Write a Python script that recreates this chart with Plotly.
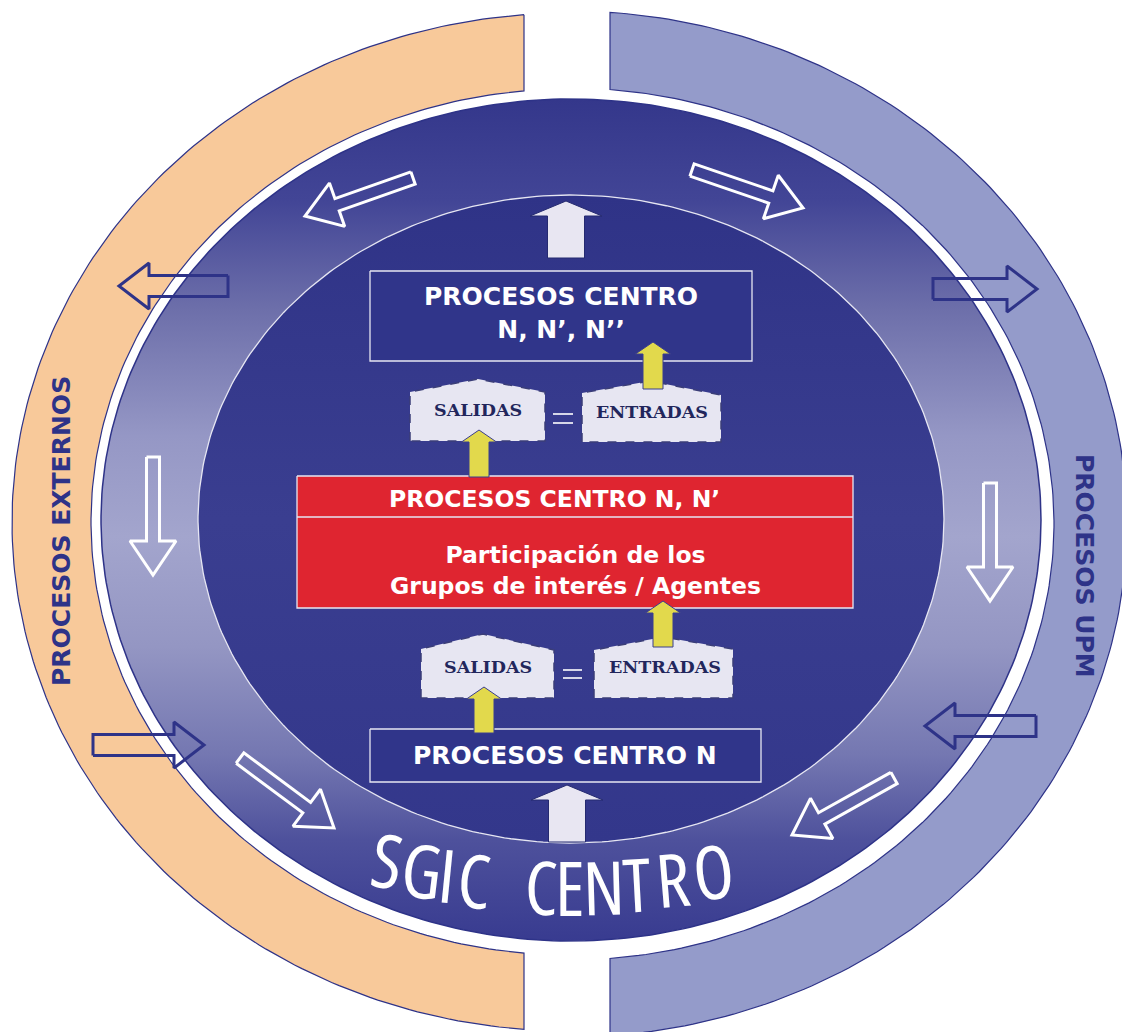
import numpy as np
import plotly.graph_objects as go

# ---------------- text content ----------------
side_labels = ["PROCESOS EXTERNOS", "PROCESOS UPM"]
top_box_label = "PROCESOS CENTRO<br>N, N’, N’’"
red_title = "PROCESOS CENTRO N, N’"
red_body = "Participación de los<br>Grupos de interés / Agentes"
bottom_box_label = "PROCESOS CENTRO N"
io_labels = ["SALIDAS", "ENTRADAS", "SALIDAS", "ENTRADAS"]
sgic_letters = list("SGICCENTRO")
sgic_x = [387, 422, 447, 474, 541, 570, 604, 637, 673, 713]

# ---------------- layout constants ----------------
W, H = 1130, 1032
OFF = 8   # browser body margin
NAVY = "#2e3388"
ORANGE = "#f8c99a"
LAVENDER = "#949bca"
RED = "#df2530"
LIGHT = "#e8e6f2"
YELLOW = "#e2d94c"

# (cx, cy, rx_out, ry_out, rx_in, ry_in, cut_x)
LEFT_BAND = (569, 522, 557, 509, 478, 433, 524)
RIGHT_BAND = (569, 524, 558, 513, 485, 436, 610)
BCX, BCY, BRX, BRY = 571, 520, 470, 421
ICX, ICY, IRX, IRY = 571, 519, 373, 324

fig = go.Figure()


def ell(cx, cy, rx, ry, t0, t1, n=200):
    t = np.linspace(t0, t1, n)
    return cx + rx * np.cos(t), cy - ry * np.sin(t)


def add_poly(xs, ys, fill=None, lc="rgba(0,0,0,0)", lw=1.0, dash=None, grad=None, close=True):
    xs = list(xs); ys = list(ys)
    if close:
        xs.append(xs[0]); ys.append(ys[0])
    kw = dict(x=xs, y=ys, mode="lines", hoverinfo="skip", showlegend=False,
              line=dict(color=lc, width=lw, dash=dash))
    if fill is not None:
        kw.update(fill="toself", fillcolor=fill)
    if grad is not None:
        kw.update(fill="toself", fillgradient=grad)
    fig.add_trace(go.Scatter(**kw))


def band(params, side):
    cx, cy, rxo, ryo, rxi, ryi, cut_x = params
    ao = np.arccos((cut_x - cx) / rxo)
    ai = np.arccos((cut_x - cx) / rxi)
    if side == "left":
        xo, yo = ell(cx, cy, rxo, ryo, ao, 2 * np.pi - ao)
        xi, yi = ell(cx, cy, rxi, ryi, 2 * np.pi - ai, ai)
    else:
        xo, yo = ell(cx, cy, rxo, ryo, -ao, ao)
        xi, yi = ell(cx, cy, rxi, ryi, ai, -ai)
    return np.concatenate([xo, xi]), np.concatenate([yo, yi])


def arrow(tail, tip, sw, hw, hl):
    tail = np.array(tail, float); tip = np.array(tip, float)
    d = tip - tail; u = d / np.linalg.norm(d); nrm = np.array([-u[1], u[0]])
    base = tip - u * hl
    pts = [tail + nrm * sw / 2, base + nrm * sw / 2, base + nrm * hw / 2, tip,
           base - nrm * hw / 2, base - nrm * sw / 2, tail - nrm * sw / 2]
    return [p[0] for p in pts], [p[1] for p in pts]


def pent(xl, xr, ytl, xp, yp, ytr, yb):
    return [xl, xl, xp, xr, xr], [yb, ytl, yp, ytr, yb]


# outer bands
x, y = band(LEFT_BAND, "left")
add_poly(x, y, fill=ORANGE, lc=NAVY, lw=1.2)
x, y = band(RIGHT_BAND, "right")
add_poly(x, y, fill=LAVENDER, lc=NAVY, lw=1.2)

# blue ring with vertical gradient
x, y = ell(BCX, BCY, BRX, BRY, 0, 2 * np.pi, 360)
ring_grad = dict(type="vertical", start=BCY - BRY, stop=BCY + BRY,
                 colorscale=[[0.0, "#34378b"], [0.12, "#424596"], [0.25, "#6d6faa"],
                             [0.4, "#9597c5"], [0.52, "#a3a5cd"], [0.65, "#9496c3"],
                             [0.78, "#7477b1"], [0.88, "#4e519c"], [1.0, "#383b90"]])
add_poly(x, y, grad=ring_grad, lc=NAVY, lw=1.5)

# inner ellipse
x, y = ell(ICX, ICY, IRX, IRY, 0, 2 * np.pi, 360)
inner_grad = dict(type="vertical", start=ICY - IRY, stop=ICY + IRY,
                  colorscale=[[0.0, "#2f3387"], [0.5, "#3a3e90"], [1.0, "#33378b"]])
add_poly(x, y, grad=inner_grad, lc="#e6e6f2", lw=1.3)

# white hollow arrows in ring
white_arrows = [((413, 178), (305, 216)), ((692, 170), (803, 208)),
                ((153, 457), (153, 575)), ((990, 483), (990, 601)),
                ((240, 758), (334, 828)), ((894, 778), (792, 835))]
for t, p in white_arrows:
    ax, ay = arrow(t, p, 13, 46, 34)
    add_poly(ax, ay, lc="white", lw=3)

# navy hollow arrows across bands
navy_arrows = [((228, 286), (119, 286)), ((933, 289), (1037, 289)),
               ((93, 745), (204, 745)), ((1036, 726), (925, 726))]
for t, p in navy_arrows:
    ax, ay = arrow(t, p, 21, 46, 30)
    add_poly(ax, ay, lc=NAVY, lw=3)

# boxes
add_poly([370, 752, 752, 370], [271, 271, 361, 361], fill="#30358a", lc="#e6e6f2", lw=1.3)
add_poly([297, 853, 853, 297], [476, 476, 608, 608], fill=RED, lc="#e6e6f2", lw=1.3)
add_poly([297, 853], [517, 517], lc="#e6e6f2", lw=1.3, close=False)
add_poly([370, 761, 761, 370], [729, 729, 782, 782], fill="#30358a", lc="#e6e6f2", lw=1.3)

# big light arrows
for t, p in [((566, 258), (566, 201)), ((567, 842), (567, 785))]:
    ax, ay = arrow(t, p, 37, 72, 15)
    add_poly(ax, ay, fill=LIGHT, lc="#252a70", lw=1)

# SALIDAS / ENTRADAS boxes
pents = [pent(410, 545, 392, 478, 379, 392, 441), pent(582, 721, 393, 650, 381, 395, 442),
         pent(421, 554, 649, 483, 634, 650, 698), pent(594, 733, 650, 663, 637, 649, 698)]
for px, py in pents:
    add_poly(px, py, fill="#e7e6f2", lc="#3b3e78", lw=1.5, dash="dash")

# yellow arrows
for t, p in [((653, 389), (653, 342)), ((479, 477), (479, 430)),
             ((663, 647), (663, 601)), ((484, 733), (484, 687))]:
    ax, ay = arrow(t, p, 20, 35, 12)
    add_poly(ax, ay, fill=YELLOW, lc="#3b3e90", lw=1)

# equals signs
for x0, x1, ya, yb in [(553, 573, 414, 423), (563, 582, 670, 678)]:
    add_poly([x0, x1], [ya, ya], lc="white", lw=1.6, close=False)
    add_poly([x0, x1], [yb, yb], lc="white", lw=1.6, close=False)

# ---------------- texts ----------------
SANS = "DejaVu Sans, Verdana, sans-serif"
ann = []


def txt(x, y, s, size, color="white", family=SANS, bold=True, angle=0):
    ann.append(dict(x=x, y=y, xref="x", yref="y", text=("<b>%s</b>" % s) if bold else s,
                    showarrow=False, xanchor="center", yanchor="middle", textangle=angle,
                    font=dict(size=size, color=color, family=family)))


txt(61, 531, side_labels[0], 25, color=NAVY, angle=-90)
txt(1085, 566, side_labels[1], 25, color=NAVY, angle=90)
txt(561, 313, top_box_label, 25)
txt(554, 499, red_title, 23.5)
txt(575, 570, red_body, 23.5)
txt(565, 755, bottom_box_label, 25)
SERIF = "DejaVu Serif, serif"
for (lx, ly), s in zip([(478, 410), (652, 412), (488, 667), (665, 667)], io_labels):
    txt(lx, ly, s, 17.5, color="#22265c", family=SERIF)

# SGIC CENTRO along an arc (condensed face)
ARC_CX, ARC_CY, ARC_R = 570, 267, 620
for ch, lx in zip(sgic_letters, sgic_x):
    dx = lx - ARC_CX
    ly = ARC_CY + np.sqrt(ARC_R ** 2 - dx ** 2)
    ang = -np.degrees(np.arcsin(dx / ARC_R)) * 0.5
    txt(lx, ly, '<span style="font-stretch:condensed">%s</span>' % ch, 74,
        family="Open Sans, Roboto Condensed, sans-serif", bold=False, angle=ang)

fig.update_layout(
    width=W - OFF, height=H - OFF, autosize=False,
    margin=dict(l=0, r=0, t=0, b=0),
    paper_bgcolor="white", plot_bgcolor="white",
    xaxis=dict(range=[OFF, W], visible=False, fixedrange=True),
    yaxis=dict(range=[H, OFF], visible=False, fixedrange=True),
    annotations=ann, showlegend=False,
)
fig.write_html("out.html")
